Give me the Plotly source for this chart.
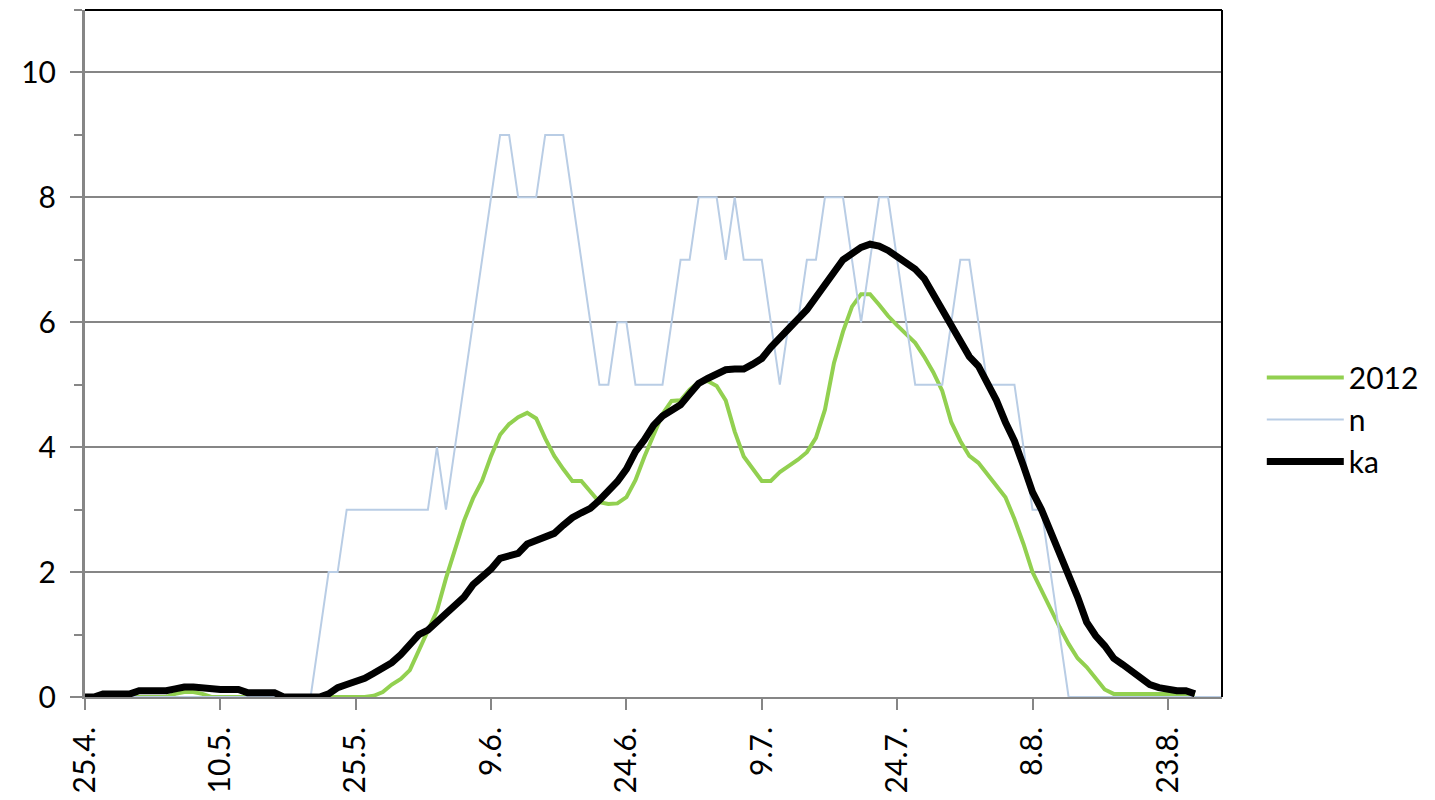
import pandas as pd
import plotly.graph_objects as go

start_date = "2012-04-25"

# series values, one per day starting 25.4.
n_vals = [
    0, 0, 0, 0, 0, 0, 0, 0, 0, 0,
    0, 0, 0, 0, 0, 0, 0, 0, 0, 0,
    0, 0, 0, 0, 0, 0, 1, 2, 2, 3,
    3, 3, 3, 3, 3, 3, 3, 3, 3, 4,
    3, 4, 5, 6, 7, 8, 9, 9, 8, 8,
    8, 9, 9, 9, 8, 7, 6, 5, 5, 6,
    6, 5, 5, 5, 5, 6, 7, 7, 8, 8,
    8, 7, 8, 7, 7, 7, 6, 5, 6, 6,
    7, 7, 8, 8, 8, 7, 6, 7, 8, 8,
    7, 6, 5, 5, 5, 5, 6, 7, 7, 6,
    5, 5, 5, 5, 4, 3, 3, 2, 1, 0,
    0, 0, 0, 0, 0, 0, 0, 0, 0, 0,
    0, 0, 0, 0, 0, 0, 0,
]

y2012_vals = [
    0, 0, 0, 0, 0, 0, 0, 0, 0, 0,
    0.05, 0.08, 0.08, 0.05, 0, 0, 0, 0, 0, 0,
    0, 0, 0, 0, 0, 0, 0, 0, 0, 0,
    0, 0, 0.02, 0.08, 0.2, 0.29, 0.43, 0.75, 1.05, 1.38,
    1.9, 2.36, 2.82, 3.18, 3.46, 3.86, 4.2, 4.37, 4.48, 4.55,
    4.46, 4.14, 3.86, 3.65, 3.46, 3.46, 3.3, 3.12, 3.09, 3.1,
    3.2, 3.47, 3.85, 4.2, 4.53, 4.74, 4.75, 4.92, 5.04, 5.06,
    4.98, 4.75, 4.25, 3.85, 3.65, 3.46, 3.46, 3.6, 3.7, 3.8,
    3.92, 4.15, 4.6, 5.35, 5.85, 6.25, 6.45, 6.45, 6.28, 6.1,
    5.95, 5.8, 5.67, 5.45, 5.2, 4.9, 4.4, 4.1, 3.86, 3.75,
    3.56, 3.38, 3.2, 2.85, 2.45, 2.0, 1.7, 1.42, 1.12, 0.85,
    0.62, 0.48, 0.3, 0.12, 0.05, 0.05, 0.05, 0.05, 0.05, 0.05,
    0.05, 0.05, 0.05, 0.05,
]

ka_vals = [
    0, 0, 0.05, 0.05, 0.05, 0.05, 0.1, 0.1, 0.1, 0.1,
    0.13, 0.16, 0.16, 0.14, 0.12, 0.12, 0.12, 0.12, 0.07, 0.07,
    0.07, 0.07, 0, 0, 0, 0, 0, 0.05, 0.15, 0.2,
    0.25, 0.3, 0.38, 0.47, 0.55, 0.68, 0.85, 1.0, 1.07, 1.2,
    1.33, 1.45, 1.6, 1.8, 1.92, 2.05, 2.22, 2.27, 2.3, 2.45,
    2.5, 2.55, 2.62, 2.75, 2.87, 2.95, 3.02, 3.15, 3.3, 3.45,
    3.65, 3.93, 4.12, 4.35, 4.5, 4.58, 4.68, 4.85, 5.02, 5.1,
    5.18, 5.24, 5.25, 5.25, 5.33, 5.42, 5.6, 5.77, 5.9, 6.05,
    6.2, 6.4, 6.6, 6.82, 7.0, 7.1, 7.2, 7.25, 7.22, 7.15,
    7.05, 6.95, 6.85, 6.7, 6.45, 6.25, 6.0, 5.75, 5.45, 5.3,
    5.05, 4.75, 4.4, 4.1, 3.7, 3.28, 3.0, 2.65, 2.3, 1.98,
    1.6, 1.2, 0.98, 0.82, 0.62, 0.52, 0.42, 0.3, 0.2, 0.15,
    0.12, 0.1, 0.1, 0.05,
]

series_names = ["2012", "n", "ka"]


def days(vals):
    return pd.date_range(start_date, periods=len(vals), freq="D")


FONT = "Lato, 'Open Sans', sans-serif"
GRID = "#868686"

fig = go.Figure()
fig.add_trace(go.Scatter(x=days(y2012_vals), y=y2012_vals, mode="lines",
                         name=series_names[0],
                         line=dict(color="#92D050", width=4)))
fig.add_trace(go.Scatter(x=days(n_vals), y=n_vals, mode="lines",
                         name=series_names[1],
                         line=dict(color="#B9CDE5", width=2)))
fig.add_trace(go.Scatter(x=days(ka_vals), y=ka_vals, mode="lines",
                         name=series_names[2],
                         line=dict(color="#000000", width=7)))

fig.update_layout(
    width=1435, height=800,
    margin=dict(l=77, r=221, t=2, b=111, autoexpand=False),
    paper_bgcolor="white", plot_bgcolor="white",
    font=dict(family=FONT, size=30, color="black"),
    showlegend=True,
    legend=dict(x=1.035, y=0.404, xanchor="left", yanchor="middle",
                bgcolor="rgba(0,0,0,0)", font=dict(size=30),
                itemwidth=77, tracegroupgap=0),
    shapes=[
        dict(type="line", xref="paper", yref="paper", x0=0, x1=1, y0=1, y1=1,
             line=dict(color="black", width=2)),
        dict(type="line", xref="paper", yref="paper", x0=1, x1=1, y0=0, y1=1,
             line=dict(color="black", width=2)),
    ],
)

fig.update_xaxes(
    type="date",
    range=["2012-04-25", "2012-08-29"],
    tick0="2012-04-25", dtick=15 * 86400000,
    tickformat="%-d.%-m.",
    tickangle=-90,
    ticks="outside", ticklen=11, tickwidth=2, tickcolor=GRID,
    showline=True, linecolor=GRID, linewidth=2,
    showgrid=False, zeroline=False,
    tickfont=dict(size=30, color="black"),
    ticklabelstandoff=5,
    automargin=False,
)
fig.update_yaxes(
    range=[0, 11], tick0=0, dtick=2,
    ticks="outside", ticklen=12, tickwidth=2, tickcolor=GRID,
    showline=True, linecolor=GRID, linewidth=3,
    showgrid=True, gridcolor=GRID, gridwidth=2,
    zeroline=False,
    minor=dict(tick0=1, dtick=2, ticks="outside", ticklen=8, tickwidth=2,
               tickcolor=GRID, showgrid=False),
    tickfont=dict(size=30, color="black"),
    ticklabelstandoff=8,
    automargin=False,
)

fig.write_html("out.html")
